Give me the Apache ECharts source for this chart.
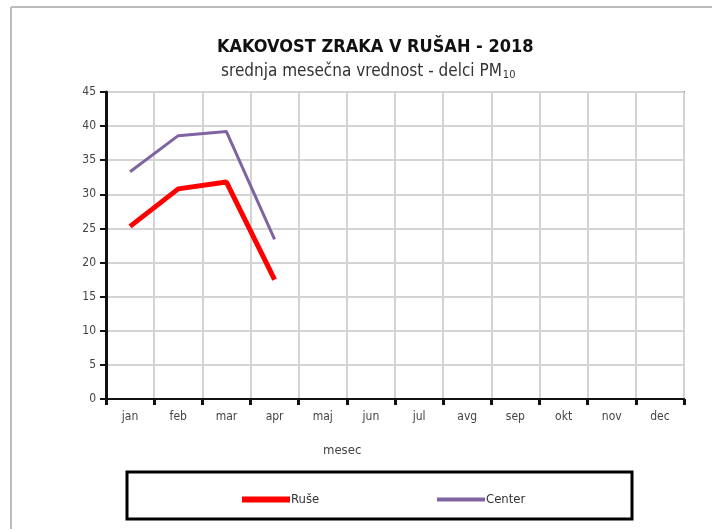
<!DOCTYPE html>
<html><head><meta charset="utf-8">
<script src="https://cdn.jsdelivr.net/npm/echarts@6/dist/echarts.min.js"></script>
<style>html,body{margin:0;padding:0;background:#fff}#c{width:712px;height:529px}</style>
</head><body><div id="c"></div>
<script>
const months = ['jan','feb','mar','apr','maj','jun','jul','avg','sep','okt','nov','dec'];
const ruse = [25.3, 30.8, 31.8, 17.5];
const center = [33.3, 38.6, 39.2, 23.4];
const yTicks = [0,5,10,15,20,25,30,35,40,45];
const F = "'Liberation Sans Narrow','DejaVu Sans Condensed','Liberation Sans',sans-serif";
const chart = echarts.init(document.getElementById('c'), null, {renderer:'canvas'});
chart.setOption({
  backgroundColor:'#fff',
  animation:false,
  title:[
    {text:'KAKOVOST ZRAKA V RUŠAH - 2018', left:212, top:33,
     textStyle:{fontFamily:F, fontSize:18, fontWeight:'bold', color:'#111'}},
    {text:'{a|srednja mesečna vrednost - delci PM}{s|10}', left:216, top:58,
     textStyle:{fontWeight:'normal', rich:{
      a:{fontFamily:F, fontSize:17, fontWeight:'normal', color:'#333'},
      s:{fontFamily:F, fontSize:11, fontWeight:'normal', color:'#333', verticalAlign:'bottom', padding:[7,0,0,1]}
     }}}
  ],
  grid:{left:106, right:28, top:92, bottom:130, show:true, borderColor:'#888', borderWidth:2, backgroundColor:'transparent'},
  xAxis:{
    type:'category', data:months, boundaryGap:true,
    axisLine:{lineStyle:{color:'#111', width:2}},
    axisTick:{show:true, inside:false, length:6, lineStyle:{color:'#111', width:3}, alignWithLabel:false},
    axisLabel:{fontFamily:F, fontSize:12, color:'#444', margin:12},
    splitLine:{show:true, lineStyle:{color:'#d4d4d4', width:2}}
  },
  yAxis:{
    type:'value', min:0, max:45, interval:5,
    axisLine:{show:true, lineStyle:{color:'#111', width:3}},
    axisTick:{show:true, length:6, lineStyle:{color:'#111', width:2}},
    axisLabel:{fontFamily:F, fontSize:12, color:'#444', margin:10,
      formatter:v=> yTicks.includes(v)? String(v):''},
    splitLine:{show:true, lineStyle:{color:'#d4d4d4', width:2}}
  },
  legend:[
    {data:['Ruše'], left:237, top:488, itemWidth:48, itemHeight:6, itemGap:2,
     textStyle:{fontFamily:F, fontSize:13, color:'#333', padding:[0,0,0,-4]}, icon:'rect'},
    {data:['Center'], left:432, top:488, itemWidth:48, itemHeight:4, itemGap:2,
     textStyle:{fontFamily:F, fontSize:13, color:'#333', padding:[0,0,0,-4]}, icon:'rect'}
  ],
  graphic:[
    {type:'line', shape:{x1:11,y1:7,x2:712,y2:7}, style:{stroke:'#bbb', lineWidth:2}},
    {type:'line', shape:{x1:11,y1:7,x2:11,y2:529}, style:{stroke:'#bbb', lineWidth:2}},
    {type:'rect', shape:{x:127,y:472,width:505,height:47}, style:{fill:'none', stroke:'#000', lineWidth:3}},
    {type:'text', left:323, top:444, style:{text:'mesec', font:"13px "+F, fill:'#444'}}
  ],
  series:[
    {name:'Ruše', type:'line', data:ruse, color:'#ff0000', symbol:'none', lineStyle:{width:5, color:'#ff0000'}},
    {name:'Center', type:'line', data:center, color:'#8064a2', symbol:'none', lineStyle:{width:3, color:'#8064a2'}}
  ]
});
</script></body></html>
